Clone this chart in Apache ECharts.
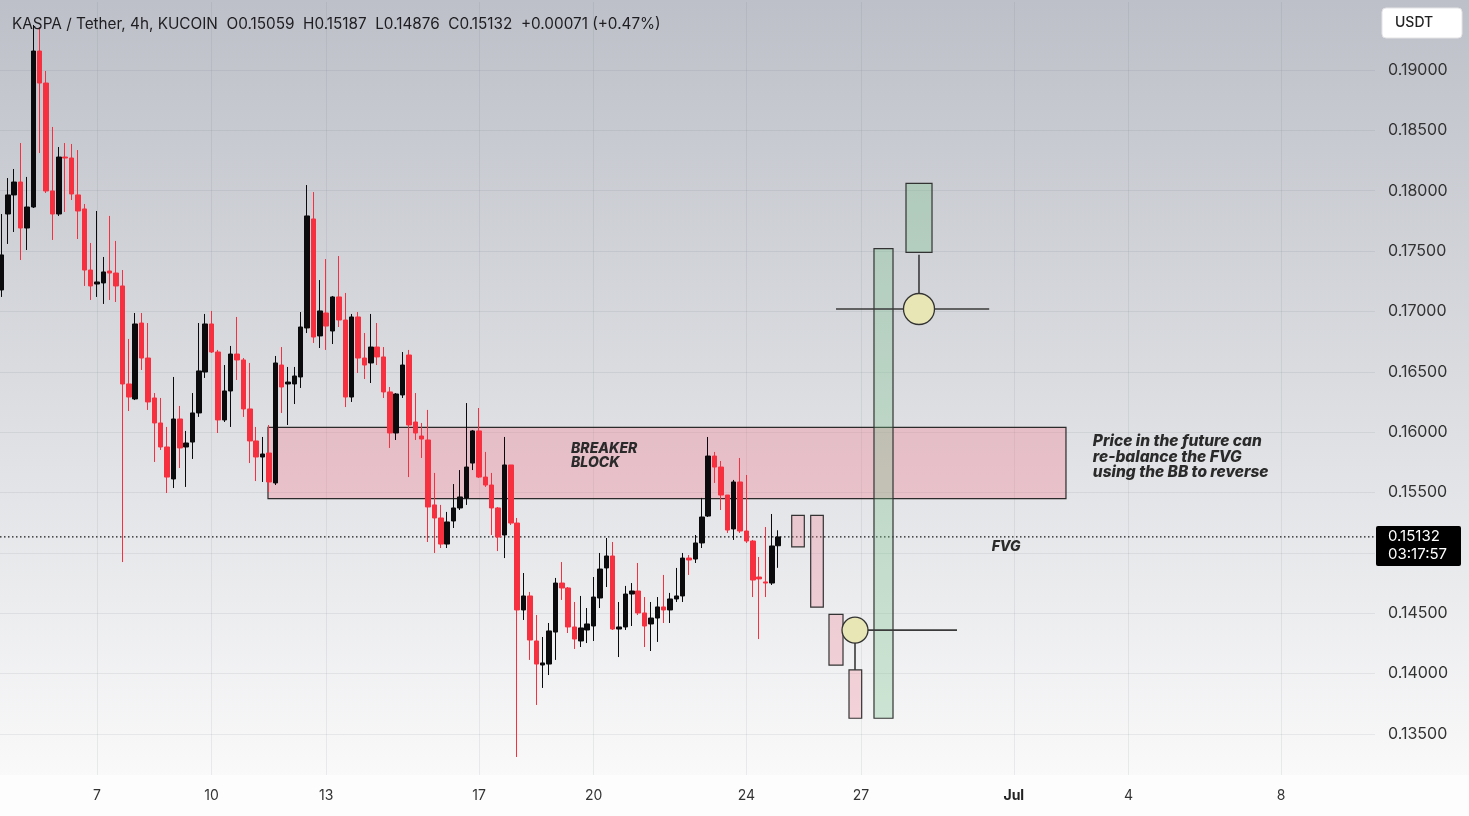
<!DOCTYPE html>
<html><head><meta charset="utf-8">
<script src="https://cdn.jsdelivr.net/npm/echarts@6/dist/echarts.min.js"></script>
<style>html,body{margin:0;padding:0;background:#fff}#c{width:1469px;height:816px}</style>
</head><body><div id="c"></div>
<script>
// ---- data ----
const candleStartDay = 4.5;      // June 4, 12:00 (days counted in June)
const candleStepDays = 1 / 6;    // 4h candles
const opens = [
0.17178,0.17807,0.17965,0.18072,0.17691,0.17865,0.19157,0.18892,0.17998,0.17807,
0.18279,0.18271,0.17965,0.17849,0.17343,0.17227,0.17236,0.17335,0.17318,0.17211,
0.16399,0.16275,0.16904,0.16614,0.16283,0.16076,0.15877,0.15612,0.16109,0.15877,
0.15918,0.16159,0.16498,0.16896,0.16664,0.16101,0.16341,0.16647,0.16598,0.16192,
0.15927,0.15794,0.15827,0.15579,0.16556,0.16399,0.16399,0.16457,0.16863,0.17766,
0.16797,0.16987,0.16838,0.17120,0.16929,0.16291,0.16954,0.16614,0.16573,0.16705,
0.16623,0.16333,0.15993,0.16308,0.16639,0.16084,0.15968,0.15935,0.15397,0.15289,
0.15073,0.15264,0.15372,0.15455,0.15744,0.16010,0.15628,0.15562,0.15372,0.15148,
0.15728,0.15247,0.14527,0.14643,0.14270,0.14071,0.14079,0.14344,0.14750,0.14709,
0.14386,0.14270,0.14361,0.14394,0.14626,0.14875,0.14974,0.14369,0.14386,0.14659,
0.14684,0.14502,0.14411,0.14460,0.14552,0.14527,0.14618,0.14643,0.14957,0.14949,
0.15082,0.15305,0.15802,0.15711,0.15479,0.15198,0.15587,0.15181,0.15098,0.14800,
0.14759,0.14750,0.15059];
const closes = [
0.17468,0.17965,0.18072,0.17691,0.17865,0.19157,0.18892,0.17998,0.17807,0.18279,
0.18271,0.17973,0.17832,0.17343,0.17211,0.17244,0.17327,0.17318,0.17211,0.16399,
0.16291,0.16896,0.16614,0.16250,0.16076,0.15877,0.15628,0.16109,0.15869,0.15910,
0.16159,0.16507,0.16896,0.16664,0.16101,0.16341,0.16647,0.16598,0.16192,0.15927,
0.15794,0.15819,0.15587,0.16573,0.16374,0.16415,0.16465,0.16871,0.17791,0.16788,
0.17004,0.16879,0.17120,0.16929,0.16291,0.16954,0.16614,0.16556,0.16705,0.16623,
0.16333,0.15993,0.16316,0.16556,0.16059,0.15993,0.15943,0.15380,0.15289,0.15073,
0.15256,0.15372,0.15463,0.15711,0.16010,0.15628,0.15562,0.15372,0.15131,0.15728,
0.15247,0.14527,0.14643,0.14278,0.14079,0.14088,0.14353,0.14750,0.14709,0.14386,
0.14286,0.14378,0.14411,0.14634,0.14866,0.14974,0.14369,0.14386,0.14659,0.14684,
0.14502,0.14394,0.14460,0.14552,0.14527,0.14618,0.14643,0.14957,0.14941,0.15082,
0.15297,0.15802,0.15711,0.15479,0.15189,0.15587,0.15181,0.15098,0.14775,0.14784,
0.14750,0.15057,0.15132];
const lows = [
0.17120,0.17559,0.17658,0.17426,0.17509,0.17857,0.18312,0.17981,0.17592,0.17791,
0.17824,0.17923,0.17600,0.17211,0.17095,0.17120,0.17062,0.17095,0.17078,0.14924,
0.16175,0.16266,0.16515,0.16184,0.15753,0.15852,0.15496,0.15537,0.15703,0.15546,
0.15778,0.16126,0.16449,0.16656,0.15993,0.16084,0.16043,0.16432,0.16126,0.15744,
0.15595,0.15587,0.15504,0.15562,0.16159,0.16059,0.16233,0.16366,0.16821,0.16739,
0.16697,0.16681,0.16730,0.16871,0.16208,0.16250,0.16490,0.16440,0.16407,0.16556,
0.16283,0.15869,0.15935,0.16283,0.15628,0.15935,0.15786,0.15090,0.14999,0.15040,
0.15040,0.15206,0.15355,0.15397,0.15686,0.15620,0.15546,0.15148,0.15015,0.14957,
0.15231,0.13309,0.14444,0.14113,0.13740,0.13881,0.13988,0.14113,0.14610,0.14336,
0.14204,0.14220,0.14253,0.14270,0.14543,0.14717,0.14361,0.14137,0.14361,0.14394,
0.14485,0.14220,0.14187,0.14262,0.14419,0.14419,0.14593,0.14593,0.14817,0.14916,
0.15040,0.15297,0.15579,0.15355,0.15165,0.15107,0.15165,0.15082,0.14634,0.14286,
0.14634,0.14734,0.14876];
const highs = [
0.17807,0.18105,0.18180,0.18395,0.18114,0.19373,0.19356,0.18992,0.18528,0.18362,
0.18395,0.18387,0.18337,0.17890,0.17567,0.17832,0.17451,0.17791,0.17584,0.17343,
0.16772,0.16987,0.16987,0.16904,0.16324,0.16283,0.16043,0.16457,0.16217,0.16010,
0.16324,0.16904,0.16979,0.17004,0.16681,0.16556,0.16714,0.16954,0.16614,0.16573,
0.16043,0.15960,0.16059,0.16631,0.16705,0.16540,0.16540,0.16995,0.18047,0.17989,
0.17260,0.17434,0.17128,0.17459,0.17153,0.16979,0.16995,0.16821,0.16979,0.16904,
0.16705,0.16374,0.16324,0.16664,0.16681,0.16324,0.16076,0.16184,0.15662,0.15397,
0.15339,0.15570,0.15686,0.16241,0.16018,0.16200,0.15836,0.15662,0.15380,0.15960,
0.15728,0.15289,0.14833,0.14676,0.14485,0.14303,0.14419,0.14792,0.14924,0.14717,
0.14593,0.14643,0.14543,0.14800,0.14999,0.15123,0.15090,0.14593,0.14726,0.14750,
0.14916,0.14634,0.14593,0.14634,0.14817,0.14668,0.14875,0.14999,0.14982,0.15148,
0.15455,0.15960,0.15836,0.15761,0.15479,0.15604,0.15786,0.15645,0.15107,0.14966,
0.15214,0.15322,0.15187];

const xTickDays = [7, 10, 13, 17, 20, 24, 27, 31, 34, 38];
const xTickLabels = ['7', '10', '13', '17', '20', '24', '27', 'Jul', '4', '8'];
const yTicks = [0.135, 0.14, 0.145, 0.15, 0.155, 0.16, 0.165, 0.17, 0.175, 0.18, 0.185, 0.19];

// drawings: [dayStart, priceLow, dayEnd, priceHigh]
const breakerBlock = [[11.476, 0.1545, 32.366, 0.1604]];
const projectedDown = [[25.186, 0.1505, 25.516, 0.1531], [25.683, 0.1455, 26.013, 0.1531],
                       [26.162, 0.1407, 26.529, 0.1449], [26.686, 0.1363, 27.018, 0.1403]];
const projectedUp = [[27.340, 0.1363, 27.838, 0.1752], [28.178, 0.1749, 28.859, 0.1806]];
// [dayA, priceA, dayB, priceB]
const guideLines = [[26.843, 0.1436, 29.513, 0.1436], [26.843, 0.1436, 26.843, 0.1403],
                    [26.346, 0.1702, 30.356, 0.1702], [28.518, 0.1702, 28.518, 0.1747]];
const pivots = [[26.843, 0.1436], [28.518, 0.1702]];
const notes = [
  [19.41, 0.1580, 'BREAKER\nBLOCK'],
  [30.42, 0.15050, 'FVG'],
  [33.07, 0.15794, 'Price in the future can\nre-balance the FVG\nusing the BB to reverse']
];
const lastPrice = 0.15132;
const countdown = '03:17:57';
const headerText = 'KASPA / Tether, 4h, KUCOIN  O0.15059  H0.15187  L0.14876  C0.15132  +0.00071 (+0.47%)';

// ---- chart ----
const candles = opens.map((o, i) => [candleStartDay + i * candleStepDays, o, closes[i], lows[i], highs[i]]);
const RED = '#f7303f', BLK = '#0b0b0d';
const FONT = 'Inter, "Noto Sans", sans-serif';

function rectRenderer(fill, stroke) {
  return function (params, api) {
    const a = api.coord([api.value(0), api.value(3)]);
    const b = api.coord([api.value(2), api.value(1)]);
    return { type: 'rect', shape: { x: a[0], y: a[1], width: b[0] - a[0], height: b[1] - a[1] },
      style: { fill: fill, stroke: stroke, lineWidth: 1.2 } };
  };
}

const chart = echarts.init(document.getElementById('c'), null, { renderer: 'canvas' });
const option = {
  animation: false,
  backgroundColor: new echarts.graphic.LinearGradient(0, 0, 0, 1, [
    { offset: 0, color: '#bdc0c8' }, { offset: 0.45, color: '#d9dbdf' },
    { offset: 0.9, color: '#f6f6f7' }, { offset: 1, color: '#fdfdfd' }]),
  grid: { left: 0, right: 94, top: 2, bottom: 41 },
  xAxis: {
    type: 'value', min: 4.4607, max: 40.4555,
    axisLine: { show: false }, axisTick: { show: false, customValues: xTickDays },
    axisLabel: {
      customValues: xTickDays, margin: 14, color: '#333', fontSize: 14, fontFamily: FONT,
      formatter: v => { const s = xTickLabels[xTickDays.indexOf(v)]; return s === 'Jul' ? '{b|Jul}' : s; },
      rich: { b: { fontWeight: 'bold', color: '#222', fontSize: 14, fontFamily: FONT } }
    },
    splitLine: { show: true, lineStyle: { color: 'rgba(90,95,110,0.10)', width: 1 } }
  },
  yAxis: {
    type: 'value', position: 'right', min: 0.131598, max: 0.195633, scale: true,
    axisLine: { show: false }, axisTick: { show: false, customValues: yTicks },
    axisLabel: { customValues: yTicks, margin: 13, color: '#333', fontSize: 16, fontFamily: FONT,
      formatter: v => v.toFixed(5) },
    splitLine: { show: true, lineStyle: { color: 'rgba(90,95,110,0.10)', width: 1 } }
  },
  series: [
    { type: 'custom', z: 1, renderItem: rectRenderer('rgba(242,130,150,0.36)', '#2b2b2b'),
      data: breakerBlock, encode: { x: [0, 2], y: [1, 3] } },
    { type: 'candlestick', z: 3, barWidth: 5, data: candles,
      encode: { x: 0, y: [1, 2, 3, 4] },
      itemStyle: { color: BLK, color0: RED, borderColor: BLK, borderColor0: RED, borderWidth: 1 } },
    { type: 'custom', z: 2, data: [[lastPrice]], encode: { y: 0 },
      renderItem: (params, api) => {
        const cs = params.coordSys;
        const y = api.coord([20, api.value(0)])[1];
        return { type: 'line', shape: { x1: cs.x, y1: y, x2: cs.x + cs.width, y2: y },
          style: { stroke: '#1a1a1a', lineWidth: 1.2, lineDash: [1.5, 2.5] } };
      } },
    { type: 'custom', z: 4, renderItem: rectRenderer('rgba(242,130,150,0.30)', '#333'),
      data: projectedDown, encode: { x: [0, 2], y: [1, 3] } },
    { type: 'custom', z: 4, renderItem: rectRenderer('rgba(120,195,140,0.33)', '#333'),
      data: projectedUp, encode: { x: [0, 2], y: [1, 3] } },
    { type: 'custom', z: 5, data: guideLines, encode: { x: [0, 2], y: [1, 3] },
      renderItem: (params, api) => {
        const a = api.coord([api.value(0), api.value(1)]);
        const b = api.coord([api.value(2), api.value(3)]);
        return { type: 'line', shape: { x1: a[0], y1: a[1], x2: b[0], y2: b[1] },
          style: { stroke: '#3a3a3a', lineWidth: 1.6 } };
      } },
    { type: 'custom', z: 6, data: pivots, encode: { x: 0, y: 1 },
      renderItem: (params, api) => {
        const p = api.coord([api.value(0), api.value(1)]);
        return { type: 'circle', shape: { cx: p[0], cy: p[1], r: params.dataIndex === 0 ? 13 : 15.5 },
          style: { fill: '#e9e6b6', stroke: '#333', lineWidth: 1.3 } };
      } },
    { type: 'custom', z: 7, data: notes, encode: { x: 0, y: 1 },
      renderItem: (params, api) => {
        const p = api.coord([api.value(0), api.value(1)]);
        const i = params.dataIndex;
        const size = i === 0 ? 14 : (i === 1 ? 14 : 15.5);
        return { type: 'text', x: p[0], y: p[1],
          style: { text: notes[i][2], fill: '#2a2a2a', align: 'left', verticalAlign: 'middle',
            font: 'italic 800 ' + size + 'px ' + FONT, lineHeight: i === 0 ? 14 : 15.5 } };
      } }
  ],
  graphic: [
    { type: 'rect', z: -5, shape: { x: 0, y: 775, width: 1469, height: 41 }, style: { fill: '#fdfdfd' } },
    { type: 'rect', z: 50, shape: { x: 1382, y: 8, width: 80, height: 30, r: 4 },
      style: { fill: '#ffffff', stroke: '#e4e4e7', lineWidth: 1 } },
    { type: 'text', z: 51, x: 1395, y: 23,
      style: { text: 'USDT', fill: '#222', font: '500 14px ' + FONT, verticalAlign: 'middle' } },
    { type: 'text', z: 51, x: 12, y: 24,
      style: { text: headerText, fill: '#1e1e22', font: '15.3px ' + FONT, verticalAlign: 'middle' } }
  ]
};
chart.setOption(option);

// last price tag, positioned through the y scale
const py = chart.convertToPixel({ yAxisIndex: 0 }, lastPrice);
chart.setOption({ graphic: option.graphic.concat([
  { type: 'rect', z: 52, shape: { x: 1376, y: py - 11, width: 85, height: 40, r: 2 }, style: { fill: '#000' } },
  { type: 'text', z: 53, x: 1388, y: py,
    style: { text: lastPrice.toFixed(5), fill: '#fff', font: '15px ' + FONT, verticalAlign: 'middle' } },
  { type: 'text', z: 53, x: 1388, y: py + 18,
    style: { text: countdown, fill: '#fff', font: '15px ' + FONT, verticalAlign: 'middle' } }
]) });
</script></body></html>
